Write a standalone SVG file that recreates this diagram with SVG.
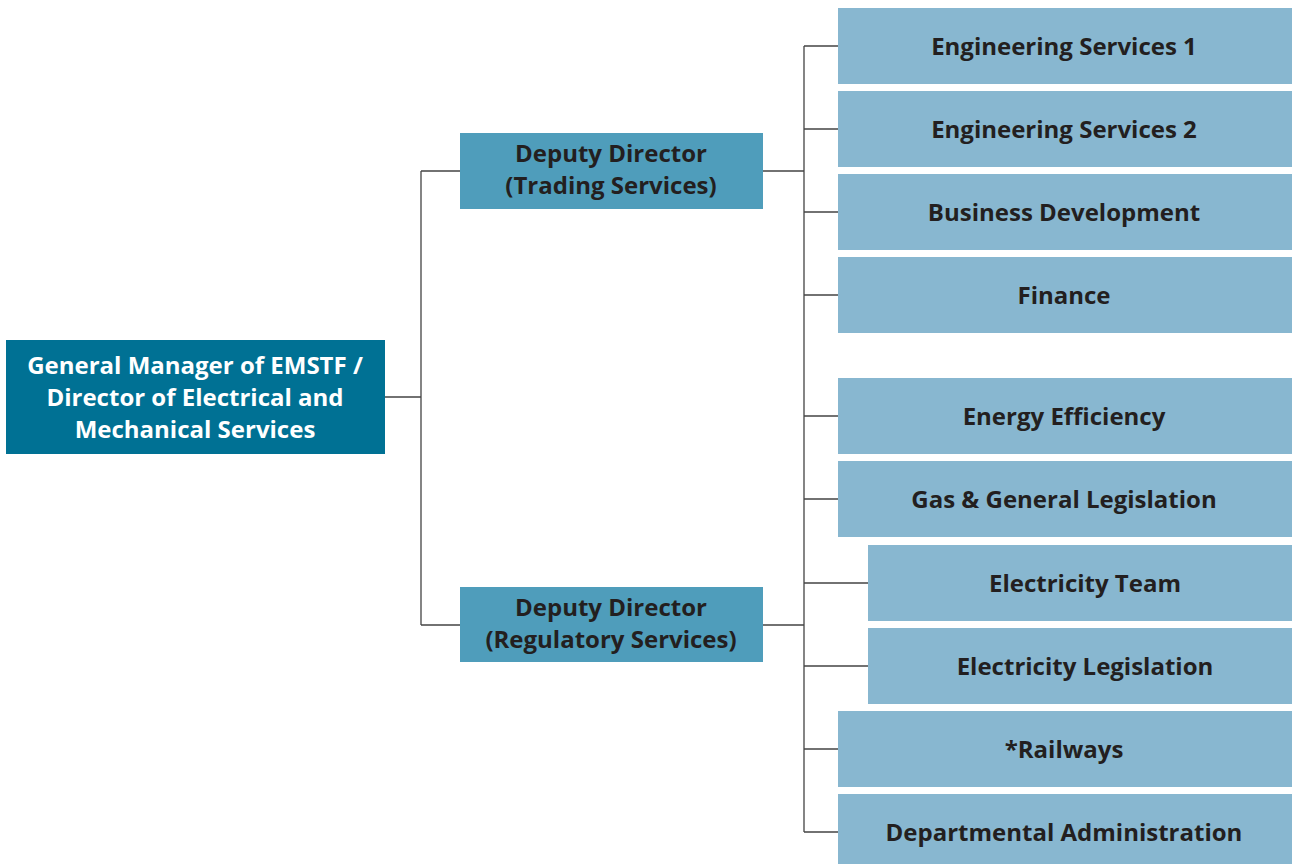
<svg xmlns="http://www.w3.org/2000/svg" width="1292" height="864" viewBox="0 0 1292 864">
<style>
.root{fill:#007194}
.dep{fill:#4f9dbb}
.unit{fill:#88b7d0}
text{font-family:"Open Sans","Noto Sans","Liberation Sans",sans-serif;font-weight:bold;font-size:24px;text-anchor:middle}
.wt{fill:#ffffff}
.dk{fill:#231f20}
.conn{fill:none;stroke:#444444;stroke-width:1.3}
</style>
<rect width="1292" height="864" fill="#ffffff"/>
<g id="connectors" class="conn">
<path d="M385 397H421M421 171V625M421 171H460M421 625H460"/>
<path d="M763 171H804M763 625H804M804 46V832"/>
<path d="M804 46H838M804 129H838M804 212H838M804 295H838M804 416H838M804 499H838M804 583H868M804 666H868M804 749H838M804 832H838"/>
</g>
<g id="gm"><rect class="root" x="6" y="340" width="379" height="114"/>
<text class="wt" x="195" y="374">General Manager of EMSTF /</text>
<text class="wt" x="195" y="406">Director of Electrical and</text>
<text class="wt" x="195" y="438">Mechanical Services</text></g>
<g id="dd-trading"><rect class="dep" x="460" y="133" width="303" height="76"/>
<text class="dk" x="611" y="162">Deputy Director</text>
<text class="dk" x="611" y="194">(Trading Services)</text></g>
<g id="dd-regulatory"><rect class="dep" x="460" y="587" width="303" height="75"/>
<text class="dk" x="611" y="616">Deputy Director</text>
<text class="dk" x="611" y="648">(Regulatory Services)</text></g>
<g id="es1"><rect class="unit" x="838" y="8" width="454" height="76"/><text class="dk" x="1064" y="55">Engineering Services 1</text></g>
<g id="es2"><rect class="unit" x="838" y="91" width="454" height="76"/><text class="dk" x="1064" y="138">Engineering Services 2</text></g>
<g id="bd"><rect class="unit" x="838" y="174" width="454" height="76"/><text class="dk" x="1064" y="221">Business Development</text></g>
<g id="fin"><rect class="unit" x="838" y="257" width="454" height="76"/><text class="dk" x="1064" y="304">Finance</text></g>
<g id="ee"><rect class="unit" x="838" y="378" width="454" height="76"/><text class="dk" x="1064" y="425">Energy Efficiency</text></g>
<g id="ggl"><rect class="unit" x="838" y="461" width="454" height="76"/><text class="dk" x="1064" y="508">Gas &amp; General Legislation</text></g>
<g id="et"><rect class="unit" x="868" y="545" width="424" height="76"/><text class="dk" x="1085" y="592">Electricity Team</text></g>
<g id="el"><rect class="unit" x="868" y="628" width="424" height="76"/><text class="dk" x="1085" y="675">Electricity Legislation</text></g>
<g id="rw"><rect class="unit" x="838" y="711" width="454" height="76"/><text class="dk" x="1064" y="758">*Railways</text></g>
<g id="da"><rect class="unit" x="838" y="794" width="454" height="76"/><text class="dk" x="1064" y="841">Departmental Administration</text></g>
</svg>
